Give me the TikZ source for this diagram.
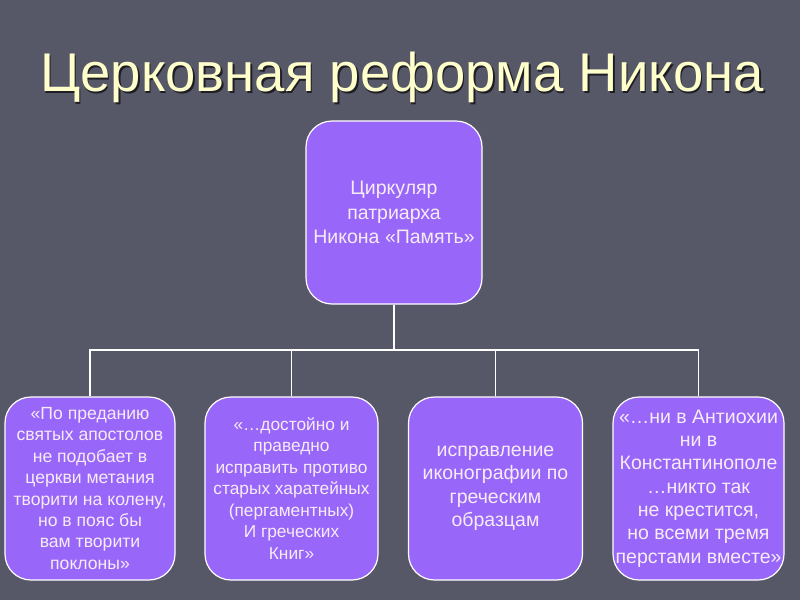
\documentclass[tikz,border=0pt]{standalone}
\usepackage{fontspec}
\setmainfont{Liberation Sans}
\definecolor{bg}{RGB}{86,88,104}
\definecolor{boxfill}{RGB}{153,102,250}
\definecolor{boxtext}{RGB}{246,236,246}
\definecolor{titlecol}{RGB}{255,255,204}
\definecolor{titleshadow}{RGB}{30,30,36}
\begin{document}
\begin{tikzpicture}[x=1pt,y=-1pt,
  box/.style={draw=white, line width=1.2pt, fill=boxfill, rounded corners=26pt,
    text=boxtext, align=center, inner sep=0pt, minimum height=183pt},
  link/.style={draw=white, line width=1.8pt},
  ttl/.style={font=\fontsize{54.5}{60}\selectfont, anchor=base, inner sep=0pt}]
\fill[bg] (0,0) rectangle (800,600);
\useasboundingbox (0,0) rectangle (800,600);
\node[ttl, text=titleshadow] (titleshadow) at (403.5,93) {Церковная реформа Никона};
\node[ttl, text=titlecol] (title) at (402,91.5) {Церковная реформа Никона};
\node[box, minimum width=176pt, font=\fontsize{19.5}{24.5}\selectfont] (top) at (394,212.5)
  {Циркуляр\\патриарха\\Никона «Память»};
\node[box, minimum width=170pt, font=\fontsize{17.6}{21.4}\selectfont] (b1) at (90,488.5)
  {«По преданию\\святых апостолов\\не подобает в\\церкви метания\\творити на колену,\\но в пояс бы\\вам творити\\поклоны»};
\node[box, minimum width=173pt, font=\fontsize{17.3}{21.5}\selectfont] (b2) at (291.5,488.5)
  {«…достойно и\\праведно\\исправить противо\\старых харатейных\\(пергаментных)\\И греческих\\Книг»};
\node[box, minimum width=174pt, font=\fontsize{19.5}{23.5}\selectfont] (b3) at (495.5,488.5)
  {исправление\\иконографии по\\греческим\\образцам};
\node[box, minimum width=171pt, font=\fontsize{19.5}{23.3}\selectfont] (b4) at (698.5,488.5)
  {«…ни в Антиохии\\ни в\\Константинополе\\…никто так\\не крестится,\\но всеми тремя\\перстами вместе»};
\coordinate (j) at (394,350);
\draw[link] (top.south) -- (j);
\draw[link] (j) -| (b1.north);
\draw[link] (j) -| (b2.north);
\draw[link] (j) -| (b3.north);
\draw[link] (j) -| (b4.north);
\end{tikzpicture}
\end{document}
